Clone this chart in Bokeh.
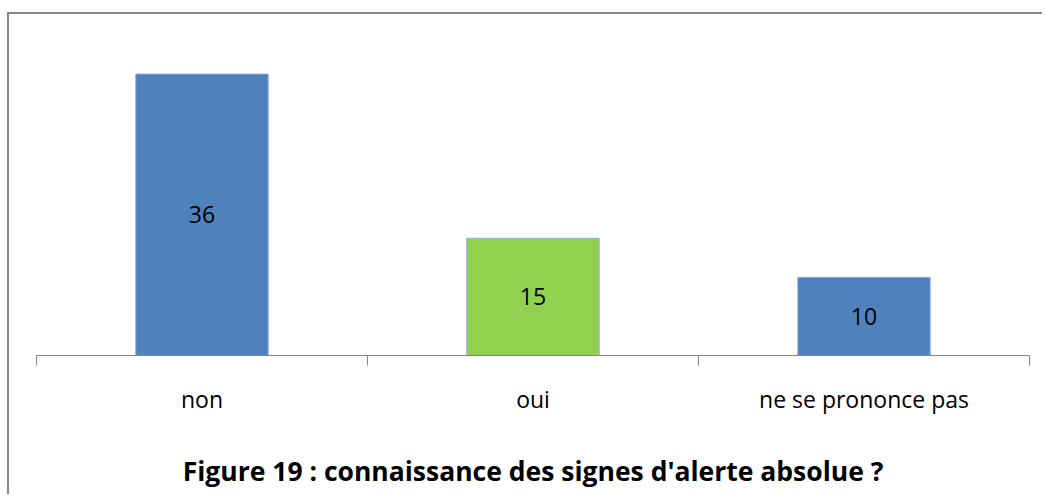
from bokeh.plotting import figure
from bokeh.models import FixedTicker, Range1d, ColumnDataSource, LabelSet
from bokeh.core.properties import value
from bokeh.embed import file_html
from bokeh.resources import INLINE

categories = ["non", "oui", "ne se prononce pas"]
values = [36, 15, 10]
colors = ["#4F81BD", "#92D050", "#4F81BD"]
title_text = "Figure 19 : connaissance des signes d'alerte absolue ?"

xs = [i + 0.5 for i in range(len(categories))]
src = ColumnDataSource(dict(x=xs, top=values, color=colors,
                            mid=[v / 2 for v in values],
                            lab=[str(v) for v in values]))

p = figure(width=1035, height=482, output_backend="svg", toolbar_location=None,
           x_range=Range1d(0, len(categories)), y_range=Range1d(0, 41.7),
           min_border_left=27, min_border_right=15, min_border_top=15,
           min_border_bottom=141)
p.styles = {"border-top": "2px solid #878787", "border-left": "2px solid #878787",
            "margin-top": "12px", "margin-left": "7px"}
p.outline_line_color = None
p.background_fill_color = "white"
p.border_fill_color = "white"
p.xgrid.visible = False
p.ygrid.visible = False
p.yaxis.visible = False

p.vbar(x="x", top="top", width=0.4, bottom=0, fill_color="color", line_color="#8FB0D8",
       line_width=1, source=src)

labels = LabelSet(x="x", y="mid", text="lab", source=src, text_align="center",
                  text_baseline="middle", text_font=value("Open Sans"),
                  text_font_size="23px", text_color="black")
p.add_layout(labels)

ax = p.xaxis[0]
ax.ticker = FixedTicker(ticks=xs, minor_ticks=list(range(len(categories) + 1)))
ax.major_label_overrides = {x: c for x, c in zip(xs, categories)}
ax.major_tick_out = 0
ax.major_tick_in = 0
ax.minor_tick_out = 10
ax.minor_tick_in = 0
ax.axis_line_color = "#868686"
ax.minor_tick_line_color = "#868686"
ax.axis_line_width = 1
ax.major_label_standoff = 17
ax.major_label_text_font = "Open Sans"
ax.major_label_text_font_size = "23px"
ax.major_label_text_color = "black"
ax.axis_label = title_text
ax.axis_label_standoff = 35
ax.axis_label_text_font = "Open Sans"
ax.axis_label_text_font_size = "26.5px"
ax.axis_label_text_font_style = "bold"
ax.axis_label_text_color = "black"

open("out.html", "w").write(file_html(p, INLINE))
